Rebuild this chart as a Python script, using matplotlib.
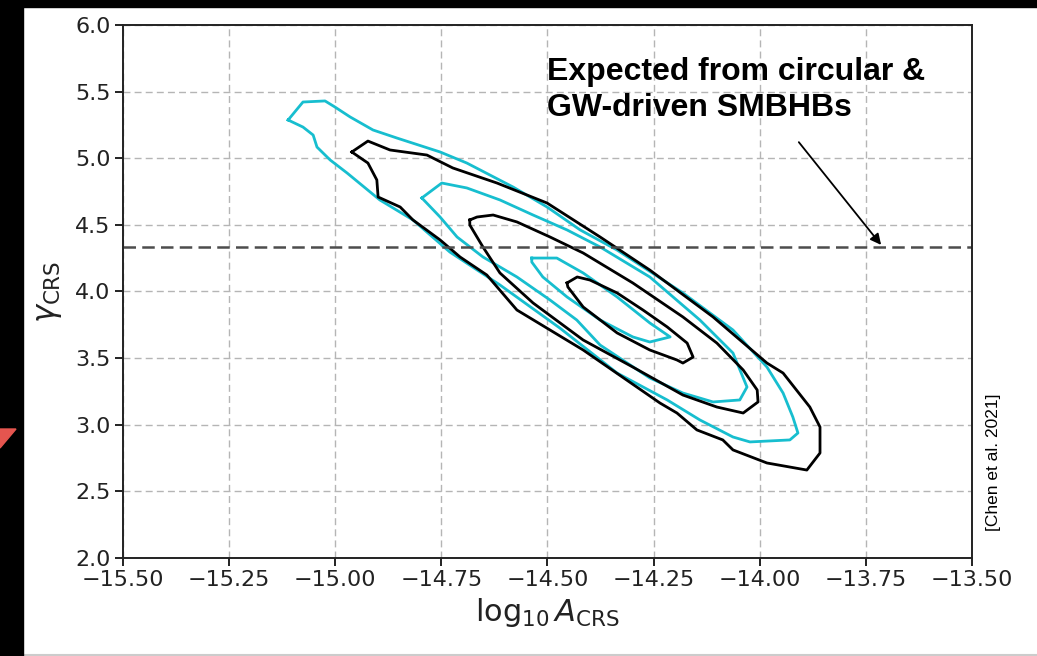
import numpy as np
import matplotlib.pyplot as plt
from matplotlib.patches import Polygon, Rectangle
from matplotlib.lines import Line2D

# contour outlines (log10 A_CRS, gamma_CRS)
cyan_outer_x = [-15.111, -15.076, -15.024, -15.001, -14.965, -14.911, -14.855, -14.753,
                -14.690, -14.581, -14.501, -14.423, -14.336, -14.181, -14.063, -13.983,
                -13.945, -13.922, -13.910, -13.929, -14.023, -14.063, -14.141, -14.218,
                -14.336, -14.471, -14.612, -14.730, -14.817, -14.895, -14.972, -15.012,
                -15.043, -15.052, -15.076]
cyan_outer_y = [5.287, 5.422, 5.430, 5.385, 5.310, 5.212, 5.152, 5.047,
                4.964, 4.784, 4.634, 4.462, 4.311, 3.989, 3.711, 3.433,
                3.238, 3.058, 2.938, 2.886, 2.871, 2.908, 3.036, 3.186,
                3.388, 3.726, 4.049, 4.296, 4.537, 4.687, 4.889, 4.987,
                5.084, 5.174, 5.234]

black_outer_x = [-14.961, -14.923, -14.871, -14.784, -14.723, -14.619, -14.501, -14.376,
                 -14.259, -14.110, -13.983, -13.945, -13.882, -13.858, -13.858, -13.889,
                 -13.983, -14.063, -14.087, -14.148, -14.195, -14.235, -14.416, -14.572,
                 -14.643, -14.706, -14.753, -14.817, -14.847, -14.899, -14.902, -14.923]
black_outer_y = [5.047, 5.129, 5.062, 5.024, 4.927, 4.814, 4.664, 4.409,
                 4.161, 3.809, 3.463, 3.388, 3.133, 2.983, 2.788, 2.660,
                 2.713, 2.811, 2.886, 2.961, 3.088, 3.163, 3.561, 3.861,
                 4.124, 4.259, 4.387, 4.537, 4.634, 4.709, 4.837, 4.964]

cyan_mid_x = [-14.796, -14.749, -14.690, -14.612, -14.534, -14.454, -14.376, -14.259,
              -14.141, -14.063, -14.030, -14.047, -14.110, -14.181, -14.259, -14.376,
              -14.431, -14.494, -14.572, -14.652, -14.713, -14.753]
cyan_mid_y = [4.702, 4.814, 4.777, 4.687, 4.574, 4.462, 4.334, 4.109,
              3.786, 3.538, 3.283, 3.186, 3.171, 3.238, 3.351, 3.598,
              3.786, 3.936, 4.109, 4.259, 4.409, 4.559]

black_mid_x = [-14.683, -14.666, -14.628, -14.572, -14.494, -14.416, -14.299, -14.181,
               -14.101, -14.039, -14.006, -14.004, -14.039, -14.101, -14.181, -14.299,
               -14.416, -14.534, -14.612, -14.652, -14.683]
black_mid_y = [4.537, 4.559, 4.574, 4.522, 4.409, 4.289, 4.064, 3.809,
               3.613, 3.411, 3.261, 3.171, 3.088, 3.133, 3.223, 3.433,
               3.636, 3.914, 4.139, 4.334, 4.499]

cyan_inner_x = [-14.537, -14.518, -14.478, -14.416, -14.336, -14.259, -14.211, -14.259,
                -14.299, -14.376, -14.454, -14.511, -14.537]
cyan_inner_y = [4.251, 4.251, 4.251, 4.139, 3.959, 3.764, 3.659, 3.621,
                3.659, 3.786, 3.959, 4.109, 4.221]

black_inner_x = [-14.454, -14.430, -14.400, -14.336, -14.275, -14.218, -14.171, -14.157,
                 -14.181, -14.195, -14.259, -14.336, -14.416, -14.452]
black_inner_y = [4.064, 4.109, 4.086, 3.989, 3.861, 3.734, 3.613, 3.508,
                 3.463, 3.486, 3.561, 3.689, 3.884, 4.034]

gamma_expected = 13 / 3
x_ticks = [-15.5, -15.25, -15.0, -14.75, -14.5, -14.25, -14.0, -13.75, -13.5]
y_ticks = [2.0, 2.5, 3.0, 3.5, 4.0, 4.5, 5.0, 5.5, 6.0]

CYAN = '#17becf'


def closed(xs, ys):
    return list(xs) + [xs[0]], list(ys) + [ys[0]]


fig = plt.figure(figsize=(10.37, 6.56), dpi=100)
ax = fig.add_axes([0.1186, 0.1494, 0.8187, 0.8125])

ax.grid(True, linestyle=(0, (5, 3)), color='#b5b5b5', linewidth=1.0)
ax.set_axisbelow(True)

outlines = [
    (cyan_outer_x, cyan_outer_y, CYAN),
    (black_outer_x, black_outer_y, 'black'),
    (cyan_mid_x, cyan_mid_y, CYAN),
    (black_mid_x, black_mid_y, 'black'),
    (cyan_inner_x, cyan_inner_y, CYAN),
    (black_inner_x, black_inner_y, 'black'),
]
for xs, ys, c in outlines:
    px, py = closed(xs, ys)
    ax.plot(px, py, color=c, lw=2.0, solid_joinstyle='round')

ax.axhline(gamma_expected, color='#4d4d4d', lw=1.8, linestyle=(0, (5, 2.5)))

ax.annotate('', xy=(-13.71, gamma_expected), xytext=(-13.912, 5.137),
            arrowprops=dict(arrowstyle='-|>', color='black', lw=1.3, mutation_scale=16))
ax.text(-14.5, 5.76, 'Expected from circular &\nGW-driven SMBHBs',
        fontfamily='Liberation Sans', fontweight='bold', fontsize=23,
        ha='left', va='top', linespacing=1.28)

ax.set_xlim(-15.5, -13.5)
ax.set_ylim(2.0, 6.0)
ax.set_xticks(x_ticks)
ax.set_yticks(y_ticks)
ax.tick_params(labelsize=16, length=6, width=1.4, colors='#222222', pad=3)
for s in ax.spines.values():
    s.set_linewidth(1.4)
    s.set_color('#222222')
ax.xaxis.set_major_formatter(plt.FuncFormatter(lambda v, p: ('%.2f' % v).replace('-', '\u2212')))
ax.yaxis.set_major_formatter(plt.FuncFormatter(lambda v, p: '%.1f' % v))

ax.set_xlabel(r'$\log_{10}A_{\rm CRS}$', fontsize=22, color='#222222', labelpad=4)
ax.set_ylabel(r'$\gamma_{\rm CRS}$', fontsize=22, color='#222222', labelpad=8)

fig.text(0.9576, 0.2957, '[Chen et al. 2021]', rotation=90, ha='center', va='center',
         fontfamily='Liberation Sans', fontsize=12.5)

# slide frame around the figure
fig.patches.append(Rectangle((0, 0), 23 / 1037, 1, transform=fig.transFigure,
                             color='black', zorder=5))
fig.patches.append(Rectangle((0, 1 - 7 / 656), 1, 7 / 656, transform=fig.transFigure,
                             color='black', zorder=5))
fig.patches.append(Polygon([(0, 1 - 429 / 656), (16 / 1037, 1 - 429 / 656), (0, 1 - 448 / 656)],
                           closed=True, transform=fig.transFigure, color='#e5554f', zorder=6))
fig.lines.append(Line2D([23 / 1037, 1], [1.5 / 656, 1.5 / 656], transform=fig.transFigure,
                        color='#cccccc', lw=1.5))

fig.savefig('out.png', dpi=100)
